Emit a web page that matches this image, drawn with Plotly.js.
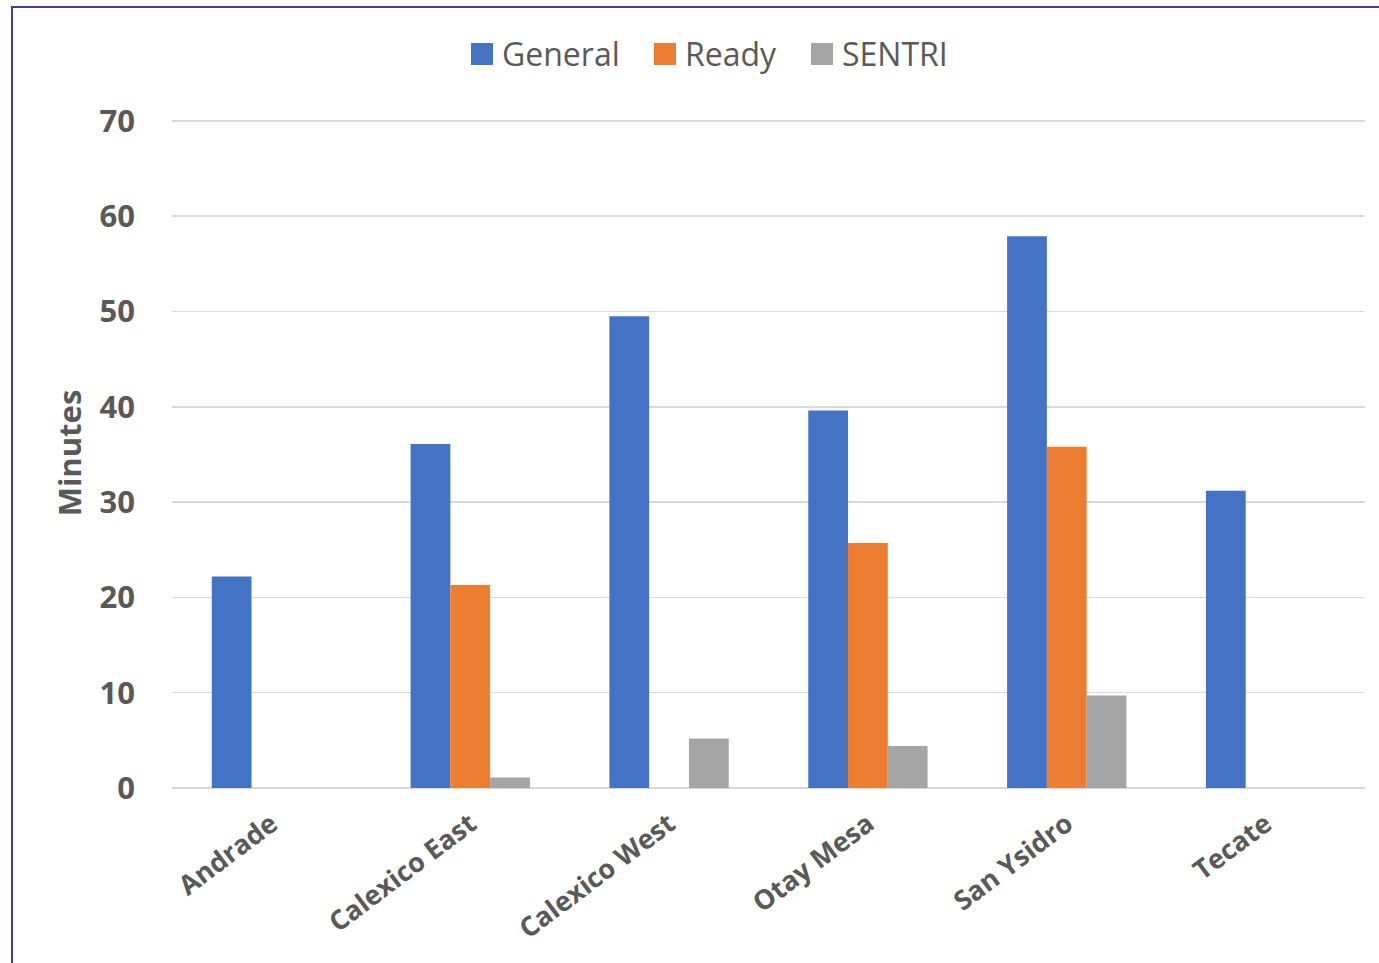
<!DOCTYPE html>
<html><head><meta charset="utf-8">
<script src="https://cdn.plot.ly/plotly-3.0.1.min.js"></script>
<style>
html,body{margin:0;padding:0;background:#fff;overflow:hidden;}
#chart{position:absolute;left:0;top:0;width:1379px;height:963px;}
#frame{position:absolute;left:11px;top:6px;width:1400px;height:1000px;border-left:2px solid #3f3f9f;border-top:2px solid #3f3f9f;pointer-events:none;}
</style></head>
<body>
<div id="chart"></div>
<div id="frame"></div>
<script>
const categories = ["Andrade", "Calexico East", "Calexico West", "Otay Mesa", "San Ysidro", "Tecate"];
const general = [22.2, 36.1, 49.5, 39.6, 57.9, 31.2];
const ready = [null, 21.3, null, 25.7, 35.8, null];
const sentri = [null, 1.1, 5.2, 4.4, 9.7, null];
const yTicks = [0, 10, 20, 30, 40, 50, 60, 70];
const seriesNames = ["General", "Ready", "SENTRI"];
const seriesColors = ["#4472c4", "#ed7d31", "#a5a5a5"];

const fontFam = '"Open Sans", "Segoe UI", sans-serif';
const W = 1379, H = 963;
const M = {l:172, r:14, t:118, b:175};
const px2x = px => (px - M.l) / (W - M.l - M.r);
const py2y = py => (H - M.b - py) / (H - M.t - M.b);

const seriesData = [general, ready, sentri];
const traces = seriesData.map((vals, i) => ({
  type:'bar', name:seriesNames[i], x:categories, y:vals,
  marker:{color:seriesColors[i]}, showlegend:false
}));

// custom legend (large square swatches like the reference)
const legendSquareLeft = [471, 654, 811];
const shapes = [], annotations = [];
seriesNames.forEach((nm, i) => {
  const x0 = legendSquareLeft[i];
  shapes.push({type:'rect', xref:'paper', yref:'paper',
    x0:px2x(x0), x1:px2x(x0 + 22), y0:py2y(65), y1:py2y(43),
    fillcolor:seriesColors[i], line:{width:0}});
  annotations.push({xref:'paper', yref:'paper', x:px2x(x0 + 29), y:py2y(54),
    xanchor:'left', yanchor:'middle', showarrow:false, text:nm,
    font:{size:32, family:fontFam, color:'#595959'}});
});

const layout = {
  width:W, height:H,
  margin:{l:M.l, r:M.r, t:M.t, b:M.b, pad:0},
  paper_bgcolor:'#fff', plot_bgcolor:'#fff',
  barmode:'group', bargap:0.4, bargroupgap:0,
  font:{family:fontFam, color:'#595959'},
  showlegend:false,
  shapes:shapes, annotations:annotations,
  xaxis:{type:'category', tickangle:-37, showgrid:false, showline:false, ticks:'',
         ticklabelstandoff:14,
         tickfont:{size:27, family:fontFam, color:'#595959', weight:'bold'}, zeroline:false},
  yaxis:{range:[0,70.3], tickvals:yTicks, ticktext:yTicks.map(String), showgrid:true, gridcolor:'#d9d9d9', gridwidth:1.5,
         zeroline:true, zerolinecolor:'#d9d9d9', zerolinewidth:2, showline:false, ticks:'',
         ticklabelstandoff:36,
         tickfont:{size:31, family:fontFam, color:'#595959', weight:'bold'},
         title:{text:'Minutes', font:{size:31, family:fontFam, color:'#595959', weight:'bold'}, standoff:8}}
};
Plotly.newPlot('chart', traces, layout, {displayModeBar:false, staticPlot:true});
</script>
</body></html>
